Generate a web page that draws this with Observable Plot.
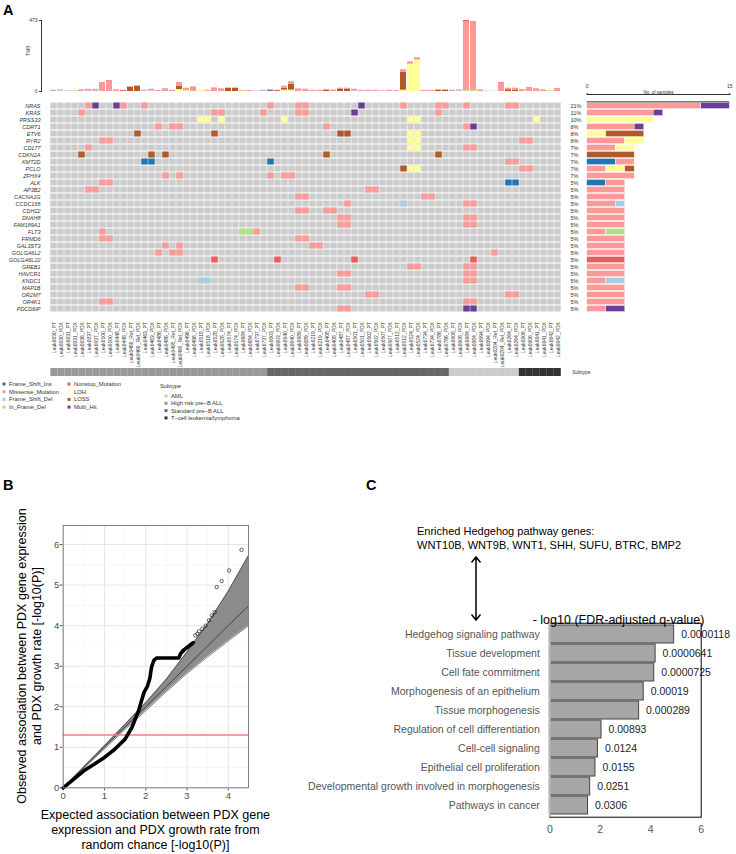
<!DOCTYPE html>
<html><head><meta charset="utf-8">
<script src="https://cdn.jsdelivr.net/npm/d3@7"></script>
<script src="https://cdn.jsdelivr.net/npm/@observablehq/plot@0.6"></script>
<style>
body{margin:0;background:#fff;}
#root{position:relative;width:736px;height:854px;overflow:hidden;font-family:"Liberation Sans",Arial,Helvetica,sans-serif;background:#fff;}
</style></head><body><div id="root"></div>
<script>
// ---------------- DATA: panel A ----------------
const samplesHighRisk = ["Leuk0030_PT","Leuk0030_PDX","Leuk0031_PT","Leuk0031_PDX","Leuk0036_PDX","Leuk0037_PT","Leuk0037_PDX","Leuk0100_PT","Leuk0100_PDX","Leuk0448_PT","Leuk0448_PDX","Leuk0460_Rel_PT","Leuk0460_Rel_PDX","Leuk0463_PT","Leuk0463_PDX","Leuk0486_PT","Leuk0486_PDX","Leuk0495_Rel_PT","Leuk0495_Rel_PDX","Leuk0496_PT","Leuk0496_PDX","Leuk0518_PT","Leuk0518_PDX","Leuk0528_PT","Leuk0528_PDX","Leuk0574_PT","Leuk0574_PDX","Leuk0684_PT","Leuk0684_PDX","Leuk0737_PT","Leuk0737_PDX"];
const samplesStandard = ["Leuk0003_PT","Leuk0003_PDX","Leuk0040_PT","Leuk0040_PDX","Leuk0089_PT","Leuk0089_PDX","Leuk0219_PT","Leuk0219_PDX","Leuk0408_PT","Leuk0408_PDX","Leuk0487_PT","Leuk0487_PDX","Leuk0501_PT","Leuk0501_PDX","Leuk0502_PT","Leuk0502_PDX","Leuk0507_PT","Leuk0507_PDX","Leuk0512_PT","Leuk0512_PDX","Leuk0524_PT","Leuk0524_PDX","Leuk0734_PT","Leuk0734_PDX","Leuk0786_PT","Leuk0786_PDX"];
const samplesAML = ["Leuk0008_PT","Leuk0008_PDX","Leuk0084_PT","Leuk0084_PDX","Leuk0094_PT","Leuk0094_PDX","Leuk0204_Rel_PT","Leuk0204_Rel_PDX","Leuk0264_PT","Leuk0264_PDX"];
const samplesTcell = ["Leuk0006_PT","Leuk0006_PDX","Leuk0041_PT","Leuk0041_PDX","Leuk0042_PT","Leuk0042_PDX"];
const subtypeNames = ["AML","High risk pre\u2212B ALL","Standard pre\u2212B ALL","T\u2212cell leukemia/lymphoma"];
const subtypeColors = ["#cccccc","#999999","#666666","#333333"];

const genes = ["NRAS","KRAS","PRSS33","CDRT1","ETV6","RYR2","CD177","CDKN2A","KMT2D","PCLO","ZFHX4","ALK","AP3B2","CACNA1G","CCDC168","CDH22","DNAH8","FAM189A1","FLT3","FRMD6","GAL3ST3","GOLGA6L2","GOLGA6L22","GREB1","HAVCR1","KNDC1","MAP1B","OR2M7","OR4K1","PDCD6IP"];
const pctLabels = ["21%","11%","10%","8%","8%","8%","7%","7%","7%","7%","7%","5%","5%","5%","5%","5%","5%","5%","5%","5%","5%","5%","5%","5%","5%","5%","5%","5%","5%","5%"];

const typeNames = ["Frame_Shift_Ins","Missense_Mutation","Frame_Shift_Del","In_Frame_Del","Nonstop_Mutation","LOH","LOSS","Multi_Hit","Splice_Site","In_Frame_Ins"];
const typeColors = ["#1F78B4","#FB9A99","#A6CEE3","#B2DF8A","#EE5A5A","#FFFF99","#B15928","#6A3D9A","#CAB2D6","#FDBF6F"];

// mutation calls: [gene, variant class, sample column indices]
const mutationCalls = [
["NRAS","Missense_Mutation",[5,10,13,31,35,36,50,55,56,59,65,66]],
["NRAS","Multi_Hit",[6,9,44]],
["KRAS","Missense_Mutation",[4,23,24,30,35,36,55]],
["KRAS","Multi_Hit",[43]],
["PRSS33","LOH",[21,22,24,33,51,52,69]],
["CDRT1","Missense_Mutation",[15,17,18,39,59]],
["CDRT1","Multi_Hit",[60]],
["ETV6","LOH",[51,52]],
["ETV6","LOSS",[12,23,41,42]],
["RYR2","Missense_Mutation",[7,8,67,68]],
["RYR2","LOH",[51,52]],
["CD177","Missense_Mutation",[5,59,60]],
["CD177","LOH",[51,52]],
["CDKN2A","LOSS",[4,14,16,39,55]],
["KMT2D","Frame_Shift_Ins",[13,14,31]],
["KMT2D","Missense_Mutation",[65,66]],
["PCLO","Missense_Mutation",[67,68]],
["PCLO","LOH",[51,52]],
["PCLO","LOSS",[50]],
["ZFHX4","Missense_Mutation",[16,18,31,33,34]],
["ALK","Frame_Shift_Ins",[65,66]],
["ALK","Missense_Mutation",[7,8]],
["AP3B2","Missense_Mutation",[5,6,45,46]],
["CACNA1G","Missense_Mutation",[35,36,53,54]],
["CCDC168","Missense_Mutation",[42,59,60]],
["CCDC168","Frame_Shift_Del",[50]],
["CDH22","Missense_Mutation",[35,36,39,40]],
["DNAH8","Missense_Mutation",[41,42,59,60]],
["FAM189A1","Missense_Mutation",[41,42,59,60]],
["FLT3","Missense_Mutation",[7,29]],
["FLT3","In_Frame_Del",[27,28]],
["FRMD6","Missense_Mutation",[7,8,35,36]],
["GAL3ST3","Missense_Mutation",[16,18,37,38]],
["GOLGA6L2","Missense_Mutation",[15,17,18,63]],
["GOLGA6L22","Nonstop_Mutation",[23,32,43,60]],
["GREB1","Missense_Mutation",[51,52,59,60]],
["HAVCR1","Missense_Mutation",[41,42,59,60]],
["KNDC1","Missense_Mutation",[59,60]],
["KNDC1","Frame_Shift_Del",[21,22]],
["MAP1B","Missense_Mutation",[35,36,41,42]],
["OR2M7","Missense_Mutation",[45,46,65,66]],
["OR4K1","Missense_Mutation",[7,8,59,60]],
["PDCD6IP","Missense_Mutation",[41,42]],
["PDCD6IP","Multi_Hit",[59,60]]
];

// TMB per sample (73 samples, in sample order), by variant class
const tmbLOH = [
0,0,0,0,0,0,0,0,0,0, 0,0,0,0,0,0,0,0,13,5, 0,7,0,0,0,0,0,0,0,0, 0,0,0,9,9,0,0,0,0,0,
0,0,0,0,0,0,0,0,0,0, 9,182,209,0,0,0,0,0,0,0, 0,0,0,0,0,0,0,0,0,0, 0,0,0];
const tmbInFrameDel = [
0,0,0,5,0,0,0,0,0,0, 0,0,0,0,0,0,0,0,0,0, 0,0,0,0,0,0,0,0,0,0, 0,0,0,0,0,0,0,0,0,0,
0,0,0,0,0,0,0,0,0,0, 0,0,0,0,0,0,0,0,0,8, 8,0,0,2,0,0,0,0,0,0, 0,5,0];
const tmbFrameShiftIns = [
0,0,0,0,0,0,0,0,0,0, 0,0,0,0,0,0,0,0,0,0, 0,0,0,0,0,0,0,0,0,0, 0,6,0,0,0,0,0,0,0,0,
0,0,0,0,0,0,0,0,0,0, 0,0,0,0,0,0,0,0,0,0, 0,0,0,0,0,0,0,0,0,0, 0,0,0];
const tmbFrameShiftDel = [
0,0,5,0,0,0,0,0,0,0, 0,0,0,0,0,0,0,0,0,0, 0,0,0,0,0,0,0,0,0,4, 0,0,0,0,0,0,0,0,0,0,
0,0,0,0,0,0,0,0,0,0, 0,0,0,0,0,0,0,0,0,0, 0,0,3,0,0,0,0,0,0,0, 0,0,0];
const tmbLOSS = [
0,0,0,0,0,0,0,0,0,0, 0,27,34,0,0,0,0,0,20,0, 0,0,0,0,0,21,21,0,0,0, 0,0,0,13,40,0,0,0,0,8,
0,14,16,0,0,0,0,0,0,0, 118,0,0,0,0,8,8,0,0,0, 0,0,0,0,0,12,10,0,0,0, 0,0,0];
const tmbSpliceSite = [
7,5,0,0,0,6,8,0,0,0, 0,0,0,7,5,0,0,0,0,0, 0,0,0,0,0,0,0,0,0,0, 7,0,0,0,0,0,0,0,0,0,
0,0,0,5,0,0,0,0,0,0, 0,0,0,0,0,0,0,7,5,0, 0,0,0,0,0,0,0,0,0,0, 0,0,0];
const tmbInFrameIns = [
0,0,0,0,0,0,0,0,0,0, 0,0,0,0,0,0,0,0,0,0, 0,0,9,0,0,0,0,7,0,0, 0,0,0,0,0,0,0,0,0,0,
0,0,0,0,0,0,0,0,0,0, 0,0,0,0,0,0,0,0,0,0, 0,0,0,0,0,0,0,0,0,0, 0,0,0];
const tmbMissense = [
2,5,0,0,11,9,7,60,66,11, 0,6,4,2,10,7,18,3,27,17, 31,0,0,24,18,3,3,0,7,0, 2,7,0,13,16,18,15,8,8,6,
10,8,6,10,8,8,8,5,8,6, 18,16,16,7,7,5,5,2,6,455, 450,11,0,0,56,10,12,13,27,18, 11,0,20];
const tmbNonstop = [
0,0,0,0,0,0,0,0,5,0, 7,0,0,0,0,0,0,4,0,0, 0,0,0,0,0,0,0,0,0,0, 0,0,7,0,0,0,0,0,0,0,
0,0,0,0,0,0,0,0,0,0, 0,0,0,0,0,0,0,0,0,10, 6,0,0,0,4,0,0,0,0,0, 0,0,0];
const tmbMax = 473;
const samplesMax = 15;

// ---------------- DATA: panel B ----------------
const qqCurveX = [0,0.25,0.5,0.75,1.0,1.25,1.5,1.67,1.83,1.96,2.04,2.1,2.14,2.2,2.26,2.8,2.85,2.95,3.05,3.15];
const qqCurveY = [0,0.21,0.42,0.58,0.75,0.95,1.2,1.5,1.91,2.36,2.5,2.7,2.98,3.15,3.2,3.2,3.32,3.42,3.5,3.58];
const qqPointX = [2.9,3.0,3.1,3.2,3.25,3.29,3.37,3.45,3.53,3.6,3.67,3.72,3.84,4.02,4.32];
const qqPointY = [3.38,3.46,3.54,3.76,3.8,3.86,3.92,4.0,4.13,4.25,4.33,4.95,5.1,5.36,5.87];
const bandX = [0,0.5,1,1.5,2,2.5,3,3.5,4,4.49];
const bandUpper = [0,0.52,1.04,1.57,2.1,2.68,3.35,4.05,4.85,5.73];
const bandLower = [0,0.48,0.96,1.44,1.9,2.37,2.82,3.23,3.62,4.0];
const refLineX = [0,4.49];
const thresholdP = 0.05;
const bTicksX = [0,1,2,3,4];
const bTicksY = [0,1,2,3,4,5,6];
const bTitleX = ["Expected association between PDX gene","expression and PDX growth rate from","random chance [-log10(P)]"];
const bTitleY = ["Observed association between PDX gene expression","and PDX growth rate [-log10(P)]"];

// ---------------- DATA: panel C ----------------
const termNames = ["Hedgehog signaling pathway","Tissue development","Cell fate commitment","Morphogenesis of an epithelium","Tissue morphogenesis","Regulation of cell differentiation","Cell-cell signaling","Epithelial cell proliferation","Developmental growth involved in morphogenesis","Pathways in cancer"];
const termQValues = ["0.0000118","0.0000641","0.0000725","0.00019","0.000289","0.00893","0.0124","0.0155","0.0251","0.0306"];
const cTicks = [0,2,4,6];

// ---------------- BUILD ----------------
const FONT = '"Liberation Sans", Arial, Helvetica, sans-serif';
const root = document.getElementById("root");
function place(el, left, top){
  el.style.position = "absolute"; el.style.left = left+"px"; el.style.top = top+"px";
  el.style.background = "transparent"; el.style.maxWidth = "none"; el.style.overflow = "visible"; root.appendChild(el);
}
const intFmt = d => String(d);
const samples = [...samplesHighRisk, ...samplesStandard, ...samplesAML, ...samplesTcell];
const sampleSubtype = [
  ...samplesHighRisk.map(()=>subtypeNames[1]), ...samplesStandard.map(()=>subtypeNames[2]),
  ...samplesAML.map(()=>subtypeNames[0]), ...samplesTcell.map(()=>subtypeNames[3])];

// TMB stacked bars
const tmbStack = [["LOH",tmbLOH],["In_Frame_Del",tmbInFrameDel],["Frame_Shift_Ins",tmbFrameShiftIns],["Frame_Shift_Del",tmbFrameShiftDel],["LOSS",tmbLOSS],["Splice_Site",tmbSpliceSite],["In_Frame_Ins",tmbInFrameIns],["Missense_Mutation",tmbMissense],["Nonstop_Mutation",tmbNonstop]];
const tmbRows = [];
tmbStack.forEach(([type, arr]) => arr.forEach((v,i) => { if (v > 0) tmbRows.push({sample: samples[i], type, value: v}); }));

const GRID_L = 43, GRID_R = 568, GRID_TOP = 94.3, ROW_H = 7.52;
const GRID_H = ROW_H * genes.length;

place(Plot.plot({
  width: 736, height: 95, marginTop: 20, marginBottom: 4, marginLeft: 41, marginRight: 168,
  style: {fontFamily: FONT, fontSize: "5px", background: "transparent", color: "#333"},
  x: {type: "band", domain: samples, range: [GRID_L, GRID_R], padding: 0.08, axis: null},
  y: {domain: [0, tmbMax], ticks: [0, tmbMax], tickFormat: intFmt, tickSize: 2, tickPadding: 2, line: true, label: null},
  color: {domain: typeNames, range: typeColors},
  marks: [
    Plot.barY(tmbRows, {x: "sample", y: "value", fill: "type"}),
    Plot.text(["TMB"], {text: d => d, frameAnchor: "left", dx: -13, rotate: -90, fontSize: 5, fill: "#333"})
  ]
}), 0, 0);

// Oncoplot grid
const gridCells = genes.flatMap(g => samples.map(s => ({g, s})));
const mutCells = mutationCalls.flatMap(([g, t, cols]) => cols.map(c => ({g, t, s: samples[c]})));
const cellInset = {insetLeft: 0.3, insetRight: 0.3, insetTop: 0.55, insetBottom: 0.55};
place(Plot.plot({
  width: 736, height: GRID_H + 48, marginTop: 0, marginBottom: 48, marginLeft: GRID_L, marginRight: 736 - GRID_R,
  style: {fontFamily: FONT, fontSize: "5px", background: "transparent", color: "#333"},
  x: {type: "band", domain: samples, padding: 0, tickRotate: -90, tickSize: 0, tickPadding: 2, label: null},
  y: {type: "band", domain: genes, padding: 0, axis: null},
  color: {domain: typeNames, range: typeColors},
  marks: [
    Plot.cell(gridCells, {x: "s", y: "g", fill: "#cccccc", ...cellInset}),
    Plot.cell(mutCells, {x: "s", y: "g", fill: "t", ...cellInset}),
    Plot.text(genes, {y: d => d, text: d => d, frameAnchor: "left", dx: -3, textAnchor: "end", fontStyle: "italic", fontSize: 5.5, fill: "#333"}),
    Plot.text(genes, {y: d => d, text: (d, i) => pctLabels[i], frameAnchor: "right", dx: 2, textAnchor: "start", fontSize: 5.5, fill: "#333"})
  ]
}), 0, GRID_TOP);

// Right: No. of samples bar chart
const countRows = [];
genes.forEach(g => typeNames.forEach(t => {
  const n = mutCells.filter(m => m.g === g && m.t === t).length;
  if (n) countRows.push({g, t, n});
}));
place(Plot.plot({
  width: 736, height: 20 + GRID_H, marginTop: 20, marginBottom: 0, marginLeft: 586.7, marginRight: 6.7,
  style: {fontFamily: FONT, fontSize: "5px", background: "transparent", color: "#333"},
  x: {domain: [0, samplesMax], axis: "top", ticks: [0, samplesMax], tickFormat: intFmt, tickSize: 2, tickPadding: 4, line: true, label: null},
  y: {type: "band", domain: genes, padding: 0, axis: null},
  color: {domain: typeNames, range: typeColors},
  marks: [
    Plot.barX(countRows, {x: "n", y: "g", fill: "t", insetTop: 0.45, insetBottom: 0.45, stroke: "white", strokeWidth: 0.4}),
    Plot.ruleY(genes.slice(0, 1), {x1: 0, x2: samplesMax, dy: -4.2, stroke: "#777", strokeWidth: 1.6}),
    Plot.text(["No. of samples"], {text: d => d, frameAnchor: "top", dy: -3.5, fontSize: 4.5, fill: "#333"})
  ]
}), 0, GRID_TOP - 20);

// Subtype annotation bar
const subRows = samples.map((s, i) => ({s, sub: sampleSubtype[i], row: "Subtype"}));
place(Plot.plot({
  width: 736, height: 8.4, marginTop: 0, marginBottom: 0, marginLeft: GRID_L, marginRight: 736 - GRID_R,
  style: {fontFamily: FONT, fontSize: "5px", background: "transparent", color: "#333"},
  x: {type: "band", domain: samples, padding: 0, axis: null},
  y: {type: "band", domain: ["Subtype"], padding: 0, axis: null},
  color: {domain: subtypeNames, range: subtypeColors},
  marks: [
    Plot.cell(subRows, {x: "s", y: "row", fill: "sub"}),
    Plot.text(["Subtype"], {text: d => d, frameAnchor: "right", dx: 4, textAnchor: "start", fontSize: 5, fill: "#333"})
  ]
}), 0, 368.3);

// Panel B: QQ plot
const qqCurve = qqCurveX.map((x, i) => ({x, y: qqCurveY[i]}));
const qqPoints = qqPointX.map((x, i) => ({x, y: qqPointY[i]}));
const band = bandX.map((x, i) => ({x, lo: bandLower[i], hi: bandUpper[i]}));
const refLine = refLineX.map(x => ({x, y: x}));
const bMinorX = bTicksX.map(t => t + 0.5).filter(t => t < 4.49);
const bMinorY = bTicksY.map(t => t + 0.5).filter(t => t < 6.47);
place(Plot.plot({
  width: 300, height: 334, marginTop: 5, marginBottom: 66.7, marginLeft: 62.7, marginRight: 52,
  style: {fontFamily: FONT, fontSize: "9.5px", background: "transparent", color: "#4d4d4d"},
  x: {domain: [0, 4.49], ticks: bTicksX, tickFormat: intFmt, tickSize: 3, tickPadding: 1, label: null},
  y: {domain: [0, 6.47], ticks: bTicksY, tickFormat: intFmt, tickSize: 3, tickPadding: 1, label: null},
  marks: [
    Plot.ruleX(bMinorX, {stroke: "#f3f3f3", strokeWidth: 0.6}),
    Plot.ruleY(bMinorY, {stroke: "#f3f3f3", strokeWidth: 0.6}),
    Plot.ruleX(bTicksX, {stroke: "#e6e6e6", strokeWidth: 1}),
    Plot.ruleY(bTicksY, {stroke: "#e6e6e6", strokeWidth: 1}),
    Plot.areaY(band, {x: "x", y1: "lo", y2: "hi", fill: "#8c8c8c"}),
    Plot.line(band, {x: "x", y: "hi", stroke: "#333", strokeWidth: 0.6}),
    Plot.line(band, {x: "x", y: "lo", stroke: "#333", strokeWidth: 0.6}),
    Plot.line(refLine, {x: "x", y: "y", stroke: "#222", strokeWidth: 0.7}),
    Plot.ruleY([-Math.log10(thresholdP)], {stroke: "#F28080", strokeWidth: 1.5}),
    Plot.line(qqCurve, {x: "x", y: "y", stroke: "black", strokeWidth: 3.6, strokeLinejoin: "round", strokeLinecap: "round"}),
    Plot.dot(qqPoints, {x: "x", y: "y", r: 1.7, stroke: "black", strokeWidth: 0.6, fill: "none"}),
    Plot.frame({stroke: "#7f7f7f"})
  ]
}), 0, 520);

// Panel C: enrichment bars
const terms = termNames.map((name, i) => ({name, q: termQValues[i], v: -Math.log10(+termQValues[i])}));
place(Plot.plot({
  width: 456, height: 354, marginTop: 122.7, marginBottom: 37.3, marginLeft: 269.3, marginRight: 35.3,
  style: {fontFamily: FONT, fontSize: "10.5px", background: "transparent", color: "#555"},
  x: {domain: [0, 6], ticks: cTicks, tickFormat: intFmt, tickSize: 0, tickPadding: 8, label: null},
  y: {type: "band", domain: termNames, padding: 0.05, axis: null},
  marks: [
    Plot.barX(terms, {x: "v", y: "name", fill: "#a6a6a6", stroke: "#444", strokeWidth: 1}),
    Plot.text(terms, {x: "v", y: "name", text: "q", dx: 7, textAnchor: "start", fill: "#222", fontSize: 10.5}),
    Plot.text(terms, {y: "name", text: "name", frameAnchor: "left", dx: -10, textAnchor: "end", fill: "#555", fontSize: 10.5}),
    Plot.frame({stroke: "black"}),
    Plot.ruleX([0], {stroke: "#bbbbbb", strokeWidth: 2}),
    Plot.text(["- log10 (FDR-adjusted q-value)"], {text: d => d, frameAnchor: "top", dy: -8, dx: -7, fontSize: 12.5, fill: "black"})
  ]
}), 280, 500);

// Overlay: panel letters, axis titles, legends, annotation arrow
const ov = d3.create("svg").attr("width", 736).attr("height", 854)
  .style("font-family", FONT).style("pointer-events", "none");
ov.append("text").attr("x", 3).attr("y", 15).attr("font-size", 14.5).attr("font-weight", "bold").text("A");
ov.append("text").attr("x", 3).attr("y", 490).attr("font-size", 14.5).attr("font-weight", "bold").text("B");
ov.append("text").attr("x", 366).attr("y", 490).attr("font-size", 14.5).attr("font-weight", "bold").text("C");

// panel B axis titles
bTitleX.forEach((t, i) => ov.append("text").attr("x", 155.4).attr("y", 815 + i * 15).attr("dy", "0.35em")
  .attr("text-anchor", "middle").attr("font-size", 12.5).text(t));
bTitleY.forEach((t, i) => ov.append("text").attr("transform", `translate(${22 + i * 15},656) rotate(-90)`)
  .attr("dy", "0.35em").attr("text-anchor", "middle").attr("font-size", 12.5).text(t));

// mutation legend (two columns)
const legendTypes = typeNames.slice(0, 8);
legendTypes.forEach((t, i) => {
  const col = Math.floor(i / 4), row = i % 4;
  const x = col === 0 ? 4 : 69, y = 384 + row * 7.7;
  ov.append("rect").attr("x", x - 1.5).attr("y", y - 1.5).attr("width", 3).attr("height", 3).attr("fill", typeColors[i]);
  ov.append("text").attr("x", x + 5).attr("y", y).attr("dy", "0.35em").attr("font-size", 5.8).attr("fill", "#333").text(t);
});
ov.append("text").attr("x", 160).attr("y", 386).attr("dy", "0.35em").attr("font-size", 5.8).attr("fill", "#333").text("Subtype");
subtypeNames.forEach((s, i) => {
  const y = 396 + i * 7.3;
  ov.append("rect").attr("x", 164.5).attr("y", y - 1.5).attr("width", 3).attr("height", 3).attr("fill", subtypeColors[i]);
  ov.append("text").attr("x", 171).attr("y", y).attr("dy", "0.35em").attr("font-size", 5.8).attr("fill", "#333").text(s);
});

// panel C annotation
ov.append("text").attr("x", 417).attr("y", 531).attr("dy", "0.35em").attr("font-size", 11).text("Enriched Hedgehog pathway genes:");
ov.append("text").attr("x", 417).attr("y", 545).attr("dy", "0.35em").attr("font-size", 11).text("WNT10B, WNT9B, WNT1, SHH, SUFU, BTRC, BMP2");
ov.append("path").attr("d", "M476,557 L476,620 M471.5,562.5 L476,557 L480.5,562.5 M471.5,614.5 L476,620 L480.5,614.5")
  .attr("stroke", "black").attr("stroke-width", 1.5).attr("fill", "none");
place(ov.node(), 0, 0);
</script>
</body></html>
